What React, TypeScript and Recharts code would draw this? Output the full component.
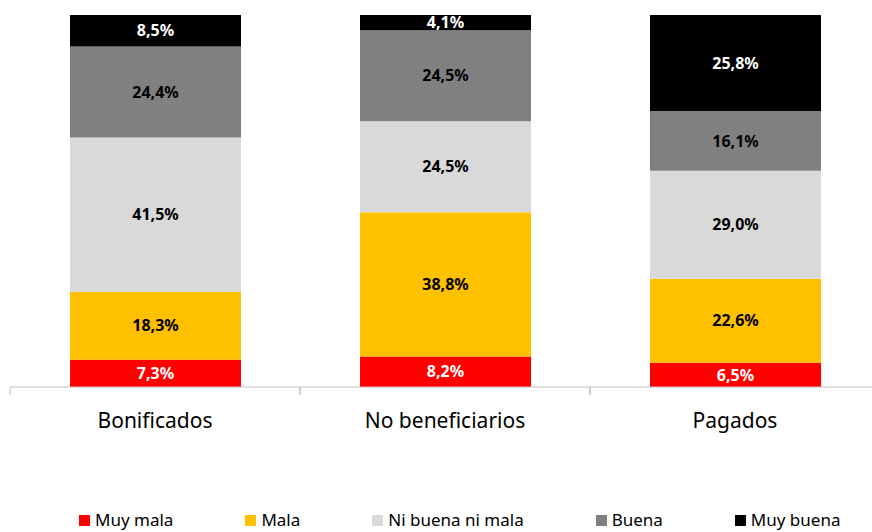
import { BarChart, Bar, XAxis, YAxis, Legend, LabelList } from 'recharts'

const categories = ['Bonificados', 'No beneficiarios', 'Pagados']
const muyMala = [7.3, 8.2, 6.5]
const mala = [18.3, 38.8, 22.6]
const niBuenaNiMala = [41.5, 24.5, 29.0]
const buena = [24.4, 24.5, 16.1]
const muyBuena = [8.5, 4.1, 25.8]

const series = [
  { key: 'muyMala', name: 'Muy mala', color: '#FF0000', text: '#ffffff' },
  { key: 'mala', name: 'Mala', color: '#FFC000', text: '#000000' },
  { key: 'niBuenaNiMala', name: 'Ni buena ni mala', color: '#D9D9D9', text: '#000000' },
  { key: 'buena', name: 'Buena', color: '#808080', text: '#000000' },
  { key: 'muyBuena', name: 'Muy buena', color: '#000000', text: '#ffffff' },
]

const data = categories.map((name, i) => ({
  name,
  muyMala: muyMala[i],
  mala: mala[i],
  niBuenaNiMala: niBuenaNiMala[i],
  buena: buena[i],
  muyBuena: muyBuena[i],
}))

const FONT = '"Noto Sans", "Open Sans", sans-serif'

const formatPct = (v: any) => `${Number(v).toFixed(1).replace('.', ',')}%`

// category label plus tick marks on the band edges
const CategoryTick = (props: any) => {
  const { x, y, payload, width } = props
  const half = width / categories.length / 2
  return (
    <g>
      <line x1={x - half} y1={y} x2={x - half} y2={y + 8} stroke="#bfbfbf" />
      <line x1={x + half} y1={y} x2={x + half} y2={y + 8} stroke="#bfbfbf" />
      <text x={x} y={y + 33} textAnchor="middle" dominantBaseline="central"
        fontSize={21} fill="#000" fontFamily={FONT}>
        {payload.value}
      </text>
    </g>
  )
}

const renderLegend = () => (
  <div style={{ display: 'flex', justifyContent: 'flex-start', gap: 72,
    fontFamily: FONT, fontSize: 17, color: '#000', lineHeight: '22px' }}>
    {series.map(s => (
      <div key={s.key} style={{ display: 'flex', alignItems: 'center' }}>
        <span style={{ width: 11, height: 11, background: s.color, marginRight: 5, display: 'inline-block' }} />
        <span>{s.name}</span>
      </div>
    ))}
  </div>
)

export default function App() {
  return (
    <div style={{ position: 'absolute', left: 0, top: 0, width: 872, height: 532, overflow: 'hidden', background: '#fff' }}>
      <BarChart
        width={880}
        height={532}
        data={data}
        stackOffset="expand"
        margin={{ top: 15, right: 0, left: 10, bottom: 0 }}
      >
        <XAxis
          dataKey="name"
          height={115}
          axisLine={{ stroke: '#bfbfbf' }}
          tickLine={false}
          tickSize={0}
          tickMargin={0}
          tick={<CategoryTick />}
          interval={0}
        />
        <YAxis hide domain={[0, 1]} />
        <Legend
          height={30}
          content={renderLegend}
          wrapperStyle={{ top: 509, left: 79, width: 800 }}
        />
        {series.map(s => (
          <Bar key={s.key} dataKey={s.key} name={s.name} stackId="a" fill={s.color}
            barSize={171} isAnimationActive={false}>
            <LabelList dataKey={s.key} position="center" formatter={formatPct}
              fill={s.text} fontSize={16} fontWeight="bold" fontFamily={FONT} />
          </Bar>
        ))}
      </BarChart>
    </div>
  )
}
